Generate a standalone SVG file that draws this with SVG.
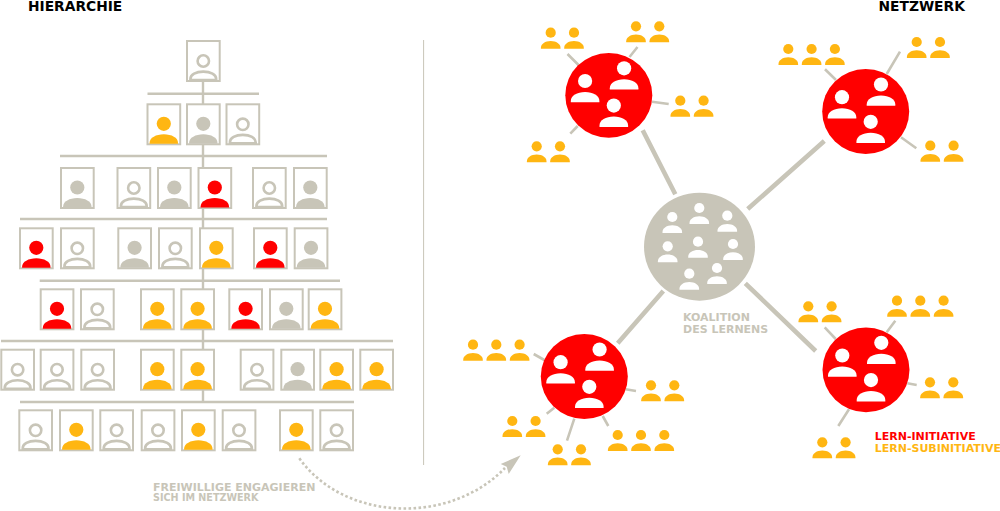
<svg xmlns="http://www.w3.org/2000/svg" width="1000" height="511" viewBox="0 0 1000 511">
<style>
text{font-family:"DejaVu Sans",sans-serif;font-weight:700}
.head{font-size:13.8px;fill:#000}
.note{fill:#c8c5b8}
.card{fill:#fff;stroke:#c8c5b8;stroke-width:2}
.tree{stroke:#c8c5b8;stroke-width:2.4;fill:none}
.thin{stroke:#c8c5b8;stroke-width:2.6;fill:none}
.thick{stroke:#c8c5b8;stroke-width:4.6;fill:none}
.ol{fill:none;stroke:#c8c5b8;stroke-width:2.6}
.y{fill:#ffb612}.r{fill:#f00}.g{fill:#c8c5b8}.w{fill:#fff}
</style>
<defs>
<g id="p"><circle r="7.1"/><path d="M-14.3 21.3V20C-14.3 14.5-8 11 0 11S14.3 14.5 14.3 20V21.3Z"/></g>
<g id="s"><circle r="5.1"/><path d="M-9.8 16V15C-9.8 11-5.5 8.2 0 8.2S9.8 11 9.8 15V16Z"/></g>
<g id="pair"><use href="#s"/><use href="#s" x="23.3"/></g>
<g id="trio"><use href="#s"/><use href="#s" x="23.3"/><use href="#s" x="46.6"/></g>
<g id="co"><rect class="card" x="1" y="1" width="32.7" height="40"/><circle class="ol" cx="17.3" cy="21" r="5.7"/><path class="ol" d="M4.4 40V39C4.4 34.5 10 31.6 17.3 31.6S30.2 34.5 30.2 39V40Z"/></g>
<g id="cg"><rect class="card" x="1" y="1" width="32.7" height="40"/><path class="g" d="M3.1 40.5V39.5C3.1 34.5 9.5 31 17.3 31S31.5 34.5 31.5 39.5V40.5Z"/><circle class="g" cx="17.3" cy="20.5" r="7.1"/></g>
<g id="cy"><rect class="card" x="1" y="1" width="32.7" height="40"/><path class="y" d="M3.1 40.5V39.5C3.1 34.5 9.5 31 17.3 31S31.5 34.5 31.5 39.5V40.5Z"/><circle class="y" cx="17.3" cy="20.5" r="7.1"/></g>
<g id="cr"><rect class="card" x="1" y="1" width="32.7" height="40"/><path class="r" d="M3.1 40.5V39.5C3.1 34.5 9.5 31 17.3 31S31.5 34.5 31.5 39.5V40.5Z"/><circle class="r" cx="17.3" cy="20.5" r="7.1"/></g>
<g id="cluster"><use href="#p" x="-23.7" y="-14.3"/><use href="#p" x="15.3" y="-27"/><use href="#p" x="5" y="10.3"/></g>
</defs>
<rect width="1000" height="511" fill="#fff"/>
<text class="head" x="28" y="11">HIERARCHIE</text>
<text class="head" x="878.5" y="11">NETZWERK</text>
<line x1="423.6" y1="40" x2="423.6" y2="465" stroke="#c8c5b8" stroke-width="1"/>

<g id="connectors">
<path class="tree" d="M147.5 93.7H259M60 156H327M20 219H327M39.7 280.7H340M1 341H393M20 402H354M203 82V402"/>
<path class="thick" d="M642.7 130.3L675.3 194.3M747.7 209L824.3 141M663.3 291L617.7 343.3M745.3 283.3L815.7 351"/>
<path class="thin" d="M567.5 54L578.5 65M637.5 47L629.5 57M652 101.7L668.7 104M577.7 126L570.3 133.7M825 69.3L836 80M900 51.7L886.7 74M901 137.3L916.3 148.3M533.7 354L544.3 360M625.7 389.3L636 391M554.3 407.7L546.7 413.7M574.3 418.7L567 440.7M602.7 416L608.3 426M824.7 327.3L835.7 339M895.3 320.7L886.7 332.3M907.3 383.3L916.7 385M849 409.3L838.3 426"/>
<path d="M299.3 458.3C345 522 450 525 505 468" fill="none" stroke="#c8c5b8" stroke-width="2.6" stroke-dasharray="2.6 2.4"/>
<path d="M520.7 455.3L500.7 464L506.7 466.7L508.7 474Z" fill="#c8c5b8"/>
</g>

<g id="h0"><use href="#co" x="186" y="40"/></g>
<g id="h1"><use href="#cy" x="146.5" y="103.3"/><use href="#cg" x="186" y="103.3"/><use href="#co" x="225.5" y="103.3"/></g>
<g id="h2"><use href="#cg" x="60" y="167"/><use href="#co" x="116.5" y="167"/><use href="#cg" x="157" y="167"/><use href="#cr" x="197.5" y="167"/><use href="#co" x="252" y="167"/><use href="#cg" x="293" y="167"/></g>
<g id="h3"><use href="#cr" x="19" y="227.3"/><use href="#co" x="60" y="227.3"/><use href="#cg" x="117.3" y="227.3"/><use href="#co" x="158" y="227.3"/><use href="#cy" x="199" y="227.3"/><use href="#cr" x="253" y="227.3"/><use href="#cg" x="293.7" y="227.3"/></g>
<g id="h4"><use href="#cr" x="39.7" y="288.3"/><use href="#co" x="80" y="288.3"/><use href="#cy" x="140" y="288.3"/><use href="#cy" x="180.3" y="288.3"/><use href="#cr" x="228.3" y="288.3"/><use href="#cg" x="269" y="288.3"/><use href="#cy" x="307.7" y="288.3"/></g>
<g id="h5"><use href="#co" x="0.3" y="348.7"/><use href="#co" x="39.7" y="348.7"/><use href="#co" x="80.3" y="348.7"/><use href="#cy" x="140" y="348.7"/><use href="#cy" x="180.3" y="348.7"/><use href="#co" x="239.7" y="348.7"/><use href="#cg" x="280.3" y="348.7"/><use href="#cy" x="319.3" y="348.7"/><use href="#cy" x="359.3" y="348.7"/></g>
<g id="h6"><use href="#co" x="18.3" y="409.3"/><use href="#cy" x="59" y="409.3"/><use href="#co" x="99.3" y="409.3"/><use href="#co" x="140.7" y="409.3"/><use href="#cy" x="181" y="409.3"/><use href="#co" x="221.7" y="409.3"/><use href="#cy" x="279" y="409.3"/><use href="#co" x="319.3" y="409.3"/></g>

<g id="koalition">
<ellipse class="g" cx="699.5" cy="246.7" rx="55.5" ry="54"/>
<g class="w"><use href="#s" x="672.3" y="217"/><use href="#s" x="699.3" y="208"/><use href="#s" x="727.3" y="215.7"/><use href="#s" x="667.7" y="246.3"/><use href="#s" x="698" y="241.7"/><use href="#s" x="733" y="244"/><use href="#s" x="689.3" y="273.7"/><use href="#s" x="717" y="268"/></g>
<text class="note" x="683" y="320.7" font-size="11">KOALITION</text>
<text class="note" x="683" y="333" font-size="11">DES LERNENS</text>
</g>

<g id="init-a"><ellipse class="r" cx="608.8" cy="95.3" rx="43.5" ry="42.4"/><use class="w" href="#cluster" x="608.8" y="95.3"/></g>
<g id="init-b"><ellipse class="r" cx="865.7" cy="111.5" rx="43.5" ry="42.4"/><use class="w" href="#cluster" x="865.7" y="111.5"/></g>
<g id="init-c"><ellipse class="r" cx="584.3" cy="376.5" rx="43.5" ry="42.4"/><use class="w" href="#cluster" x="584.3" y="376.5"/></g>
<g id="init-d"><ellipse class="r" cx="866" cy="369.8" rx="43.5" ry="42.4"/><use class="w" href="#cluster" x="866" y="369.8"/></g>

<g id="sub-a1" class="y"><use href="#pair" x="550.7" y="32.7"/></g>
<g id="sub-a2" class="y"><use href="#pair" x="636" y="26.3"/></g>
<g id="sub-a3" class="y"><use href="#pair" x="680.3" y="100.7"/></g>
<g id="sub-a4" class="y"><use href="#pair" x="536.7" y="146.3"/></g>
<g id="sub-b1" class="y"><use href="#trio" x="788.3" y="49"/></g>
<g id="sub-b2" class="y"><use href="#pair" x="916.7" y="42"/></g>
<g id="sub-b3" class="y"><use href="#pair" x="930.3" y="145.7"/></g>
<g id="sub-c1" class="y"><use href="#trio" x="473" y="344.7"/></g>
<g id="sub-c2" class="y"><use href="#pair" x="651" y="385.3"/></g>
<g id="sub-c3" class="y"><use href="#pair" x="512.3" y="421"/></g>
<g id="sub-c4" class="y"><use href="#pair" x="557.7" y="449.3"/></g>
<g id="sub-c5" class="y"><use href="#trio" x="617.7" y="435"/></g>
<g id="sub-d1" class="y"><use href="#pair" x="808.3" y="306.3"/></g>
<g id="sub-d2" class="y"><use href="#trio" x="897" y="300.7"/></g>
<g id="sub-d3" class="y"><use href="#pair" x="930" y="382.3"/></g>
<g id="sub-d4" class="y"><use href="#pair" x="822.3" y="442.3"/></g>

<text class="note" x="153" y="490.7" font-size="11">FREIWILLIGE ENGAGIEREN</text>
<text class="note" x="153" y="501" font-size="9.6">SICH IM NETZWERK</text>
<text x="874.7" y="439.7" font-size="11" fill="#f00">LERN-INITIATIVE</text>
<text x="874.7" y="452" font-size="11" fill="#ffb612">LERN-SUBINITIATIVE</text>
</svg>
